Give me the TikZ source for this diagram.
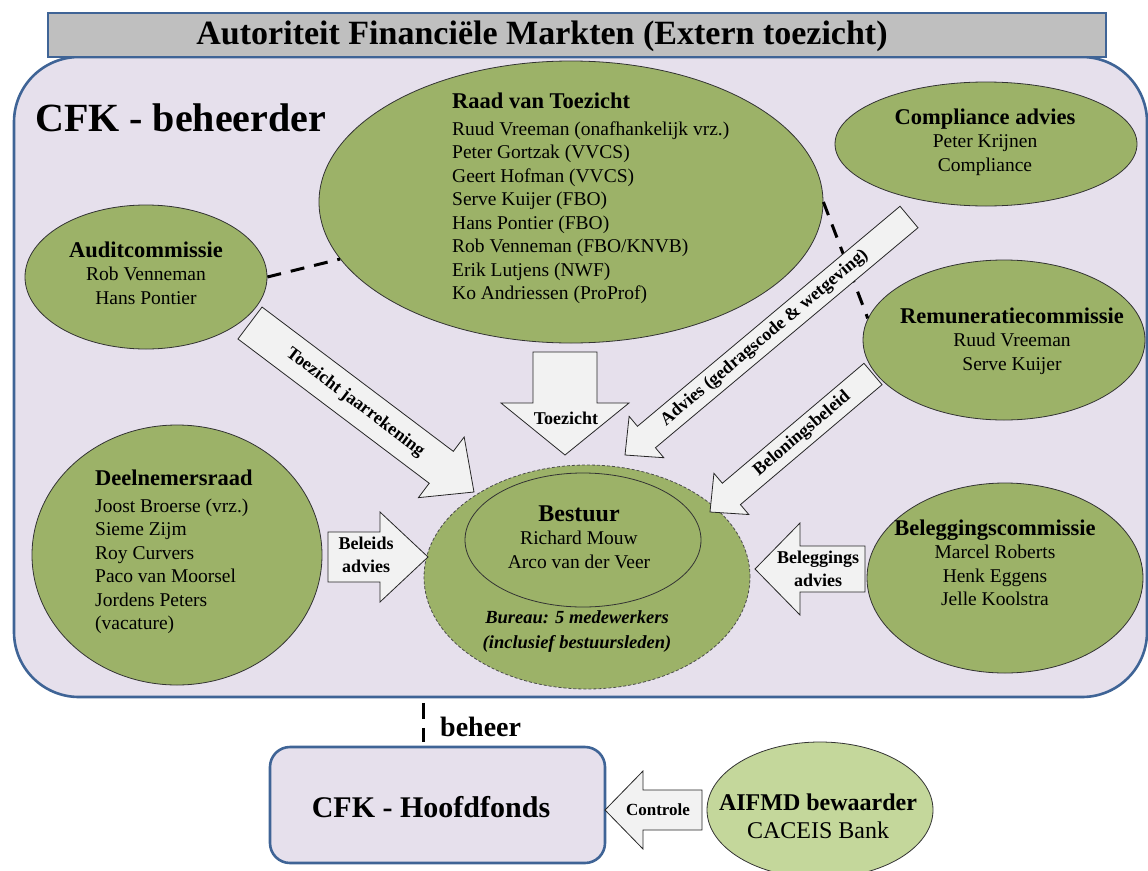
\documentclass[tikz,border=0pt]{standalone}
\usepackage{fontspec}
\setmainfont{Liberation Serif}
\usetikzlibrary{shapes.geometric,calc}

\definecolor{cfkgreen}{HTML}{9CB268}
\definecolor{cfklight}{HTML}{C4D79B}
\definecolor{cfklav}{HTML}{E6E0EC}
\definecolor{cfkblue}{HTML}{3F6496}
\definecolor{cfkgray}{HTML}{BFBFBF}
\definecolor{cfkarrow}{HTML}{F2F2F2}

\newcommand\fsz[2]{\fontsize{#1}{#2}\selectfont}
\newcommand\ttl[1]{{\fsz{22.5}{27}\bfseries #1}}

% block arrow: #1 name, #2 tail, #3 tip, #4 shaft half width,
% #5 head half width, #6 head length
\newcommand\blockarrow[6]{%
  \coordinate (#1-base) at ($(#3)!#6!(#2)$);
  \draw[blockarrow]
    ($(#2)!#4!90:(#3)$) -- ($(#1-base)!#4!90:(#3)$) --
    ($(#1-base)!#5!90:(#3)$) -- (#3) --
    ($(#1-base)!#5!-90:(#3)$) -- ($(#1-base)!#4!-90:(#3)$) --
    ($(#2)!#4!-90:(#3)$) -- cycle;
}

\begin{document}
\begin{tikzpicture}[x=1pt,y=-1pt,
  frame/.style={draw=cfkblue, line width=2.6pt, inner sep=0pt},
  org/.style={ellipse, draw=black!80, line width=0.8pt, fill=cfkgreen, inner sep=0pt},
  blockarrow/.style={draw=black!85, line width=0.8pt, fill=cfkarrow, line join=miter},
  body/.style={font=\fsz{19.5}{23.5}, inner sep=0pt},
  arrowlbl/.style={font=\fsz{18}{23}\bfseries, inner sep=0pt, align=center},
  link/.style={draw=black, line width=3pt, dash pattern=on 14pt off 10pt},
]
\useasboundingbox (0,0) rectangle (1148,870);

% manager frame and supervisor bar
\node[frame, fill=cfklav, rounded corners=65pt, minimum width=1133pt, minimum height=640pt] (cfk) at (580.5,377) {};
\node[frame, fill=cfkgray, minimum width=1058pt, minimum height=44pt] (afm) at (577,35) {};
\node[font=\fsz{34}{36}\bfseries, inner sep=0pt] (afmtxt) at (542,36) {Autoriteit Financiële Markten (Extern toezicht)};
\node[font=\fsz{40}{44}\bfseries, anchor=west, inner sep=0pt] (cfktxt) at (35,118) {CFK - beheerder};

% bodies
\node[org, minimum width=504pt, minimum height=282pt] (raad) at (571,202) {};
\node[org, minimum width=302pt, minimum height=124pt] (compl) at (986,144) {};
\node[org, minimum width=282pt, minimum height=160pt] (remun) at (1004,340) {};
\node[org, minimum width=242pt, minimum height=144pt] (audit) at (146,277) {};
\node[org, minimum width=290pt, minimum height=260pt] (deel) at (177,555) {};
\node[org, draw=black!70, dash pattern=on 3pt off 2pt, minimum width=326pt, minimum height=224pt] (bestuur) at (587,577) {};
\node[org, minimum width=236pt, minimum height=134pt] (kern) at (583,540) {};
\node[org, minimum width=276pt, minimum height=190pt] (beleg) at (1005,578) {};
\node[org, fill=cfklight, minimum width=226pt, minimum height=136pt] (aifmd) at (820,810) {};
\node[frame, fill=cfklav, rounded corners=20pt, minimum width=335pt, minimum height=116pt] (hoofd) at (437.5,805) {};

% dashed relations
\draw[link] (audit.east) -- (raad);
\draw[link] (raad.east) -- (remun.171);
\coordinate (beheerx) at (423,0);
\draw[link, dash pattern=on 16pt off 9pt, shorten <=4.5pt, shorten >=4pt] (beheerx |- cfk.south) -- (beheerx |- hoofd.north);
\node[font=\fsz{28}{30}\bfseries, anchor=west, inner sep=0pt] (beheertxt) at (440,727) {beheer};

% block arrows
\coordinate (jaar-tail) at (250,323);  \coordinate (jaar-tip) at (474,492);
\blockarrow{jaar}{jaar-tail}{jaar-tip}{20pt}{38pt}{41pt}
\coordinate (toez-tail) at (565,352);  \coordinate (toez-tip) at (565,455);
\blockarrow{toez}{toez-tail}{toez-tip}{32pt}{64pt}{52pt}
\coordinate (adv-tail) at (909,217);   \coordinate (adv-tip) at (625,455);
\blockarrow{adv}{adv-tail}{adv-tip}{14pt}{27pt}{28pt}
\coordinate (belon-tail) at (873,374); \coordinate (belon-tip) at (710,512);
\blockarrow{belon}{belon-tail}{belon-tip}{14pt}{27pt}{28pt}
\coordinate (beleids-tail) at (328,557); \coordinate (beleids-tip) at (428,557);
\blockarrow{beleids}{beleids-tail}{beleids-tip}{25pt}{45pt}{48pt}
\coordinate (belegadv-tail) at (865,569); \coordinate (belegadv-tip) at (755,569);
\blockarrow{belegadv}{belegadv-tail}{belegadv-tip}{23pt}{46pt}{45pt}
\coordinate (contr-tail) at (702,810); \coordinate (contr-tip) at (605,810);
\blockarrow{contr}{contr-tail}{contr-tip}{20pt}{39pt}{38pt}

% arrow labels
\path (jaar-tail) -- (jaar-base) node[arrowlbl, sloped, pos=0.55] (jaarlbl) {Toezicht jaarrekening};
\node[arrowlbl] (toezlbl) at (566,418) {Toezicht};
\path (adv-tail) -- (adv-base) node[arrowlbl, sloped, pos=0.55] (advlbl) {Advies (gedragscode \& wetgeving)};
\path (belon-tail) -- (belon-base) node[arrowlbl, sloped, pos=0.5] (belonlbl) {Beloningsbeleid};
\node[arrowlbl] (beleidslbl) at (366,555) {Beleids\\advies};
\node[arrowlbl] (belegadvlbl) at (818,569) {Beleggings\\advies};
\node[arrowlbl, font=\fsz{17}{20}\bfseries] (contrlbl) at (658,810) {Controle};

% member texts
\node[body, align=left, anchor=west] (raadtxt) at (452,198.5) {\ttl{Raad van Toezicht}\\[3pt]
  Ruud Vreeman (onafhankelijk vrz.)\\ Peter Gortzak (VVCS)\\ Geert Hofman (VVCS)\\
  Serve Kuijer (FBO)\\ Hans Pontier (FBO)\\ Rob Venneman (FBO/KNVB)\\
  Erik Lutjens (NWF)\\ Ko Andriessen (ProProf)};
\node[body, align=center] (compltxt) at (985,142) {\ttl{Compliance advies}\\ Peter Krijnen\\ Compliance};
\node[body, align=center] (remuntxt) at (1012,341) {\ttl{Remuneratiecommissie}\\ Ruud Vreeman\\ Serve Kuijer};
\node[body, align=center] (audittxt) at (146,273) {\ttl{Auditcommissie}\\ Rob Venneman\\ Hans Pontier};
\node[body, align=left, anchor=west] (deeltxt) at (95,552) {\ttl{Deelnemersraad}\\[3pt]
  Joost Broerse (vrz.)\\ Sieme Zijm\\ Roy Curvers\\ Paco van Moorsel\\ Jordens Peters\\ (vacature)};
\node[body, align=center] (kerntxt) at (579,537) {{\fsz{24}{27}\bfseries Bestuur}\\ Richard Mouw\\ Arco van der Veer};
\node[body, align=center, font=\fsz{18.5}{25}\bfseries\itshape] (bureautxt) at (577,632) {Bureau: 5 medewerkers\\ (inclusief bestuursleden)};
\node[body, align=center] (belegtxt) at (995,563) {\ttl{Beleggingscommissie}\\ Marcel Roberts\\ Henk Eggens\\ Jelle Koolstra};
\node[body, align=center, font=\fsz{24}{28}] (aifmdtxt) at (818,816) {\textbf{AIFMD bewaarder}\\ CACEIS Bank};
\node[font=\fsz{30}{34}\bfseries, inner sep=0pt] (hoofdtxt) at (431,807) {CFK - Hoofdfonds};
\end{tikzpicture}
\end{document}
